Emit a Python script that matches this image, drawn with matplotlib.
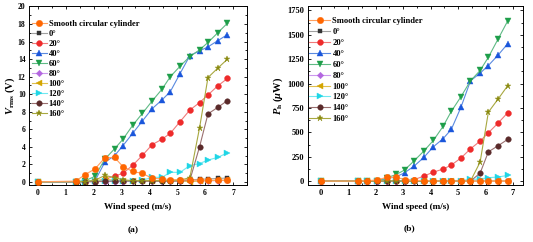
import matplotlib
matplotlib.use("Agg")
import matplotlib.pyplot as plt
from matplotlib.ticker import MultipleLocator

plt.rcParams['font.family'] = ['Liberation Serif', 'DejaVu Serif']
plt.rcParams['font.weight'] = 'bold'
plt.rcParams['mathtext.fontset'] = 'custom'
plt.rcParams['mathtext.rm'] = 'Liberation Serif:bold'
plt.rcParams['mathtext.it'] = 'Liberation Serif:bold:italic'
plt.rcParams['mathtext.bf'] = 'Liberation Serif:bold'

# wind speed (m/s)
speed = [0, 1.35, 1.7, 2.05, 2.4, 2.75, 3.05, 3.4, 3.75, 4.1, 4.45, 4.75, 5.1, 5.45, 5.8, 6.1, 6.45, 6.8]

labels = ["Smooth circular cylinder", "0°", "20°", "40°", "60°", "80°", "100°", "120°", "140°", "160°"]

# (a) Vrms (V)
v_smooth = [0.02, 0.1, 0.85, 1.5, 2.75, 2.8, 1.75, 1.2, 0.97, 0.42, 0.35, 0.28, 0.25, 0.22, 0.2, 0.2, 0.2, 0.2]
v_0 = [0.02, 0.03, 0.04, 0.05, 0.06, 0.06, 0.07, 0.08, 0.08, 0.1, 0.12, 0.15, 0.2, 0.25, 0.3, 0.35, 0.4, 0.45]
v_20 = [0.02, 0.03, 0.05, 0.1, 0.3, 0.68, 0.99, 1.9, 3.04, 4.26, 4.87, 5.55, 6.88, 8.2, 9.05, 9.92, 10.95, 11.8]
v_40 = [0.02, 0.03, 0.05, 0.15, 2.25, 3.0, 4.14, 5.55, 6.96, 8.36, 9.35, 10.3, 12.36, 14.4, 14.94, 15.4, 16.1, 16.8]
v_60 = [0.02, 0.05, 0.15, 0.65, 2.6, 3.78, 4.87, 6.46, 7.83, 9.24, 10.57, 12.0, 13.2, 14.3, 15.06, 15.9, 17.0, 18.1]
v_80 = [0.02, 0.02, 0.03, 0.04, 0.05, 0.05, 0.05, 0.06, 0.06, 0.07, 0.08, 0.08, 0.1, 0.1, 0.12, 0.14, 0.15, 0.18]
v_100 = [0.02, 0.03, 0.05, 0.1, 0.3, 0.2, 0.15, 0.1, 0.1, 0.1, 0.1, 0.1, 0.15, 0.02, 0.12, 0.15, 0.18, 0.2]
v_120 = [0.02, 0.03, 0.05, 0.08, 0.1, 0.12, 0.12, 0.1, 0.2, 0.53, 0.53, 1.1, 1.1, 1.87, 2.1, 2.5, 2.8, 3.33]
v_140 = [0.02, 0.02, 0.03, 0.05, 0.08, 0.1, 0.1, 0.1, 0.1, 0.1, 0.1, 0.1, 0.12, 0.2, 4.03, 7.76, 8.5, 9.28]
v_160 = [0.02, 0.03, 0.05, 0.2, 0.75, 0.5, 0.25, 0.15, 0.15, 0.15, 0.15, 0.15, 0.2, 0.5, 6.2, 11.9, 12.97, 14.0]

# (b) Ph (uW)
p_smooth = [0, 0.1, 4, 12, 38, 40, 16, 8, 5, 1, 1, 0.5, 0.5, 0.3, 0.2, 0.2, 0.2, 0.2]
p_0 = [0, 0, 0, 0, 0, 0, 0, 0, 0, 0, 0.1, 0.1, 0.2, 0.3, 0.5, 0.6, 0.8, 1.0]
p_20 = [0, 0, 0, 0, 0.5, 2, 5, 15, 51, 92, 123, 164, 236, 331, 410, 495, 594, 700]
p_40 = [0, 0, 0, 0.1, 25, 45, 85, 154, 242, 352, 434, 529, 755, 1028, 1107, 1185, 1291, 1407]
p_60 = [0, 0, 0, 2, 33, 68, 113, 208, 307, 417, 560, 714, 864, 1028, 1134, 1270, 1455, 1640]
p_80 = [0, 0, 0, 0, 0, 0, 0, 0, 0, 0, 0, 0, 0, 0, 0, 0, 0, 0.1]
p_100 = [0, 0, 0, 0, 0.5, 0.2, 0.1, 0, 0, 0, 0, 0, 0.1, 0, 0.1, 0.1, 0.2, 0.2]
p_120 = [0, 0, 0, 0, 0, 0, 0, 0, 0.1, 1.5, 1.3, 6, 6, 17, 22, 35, 42, 58]
p_140 = [0, 0, 0, 0, 0, 0, 0, 0, 0, 0, 0, 0, 0, 0.2, 82, 300, 362, 427]
p_160 = [0, 0, 0, 0.2, 3, 1.5, 0.3, 0.1, 0.1, 0.1, 0.1, 0.1, 0.2, 1, 195, 707, 840, 977]

v_series = [v_smooth, v_0, v_20, v_40, v_60, v_80, v_100, v_120, v_140, v_160]
p_series = [p_smooth, p_0, p_20, p_40, p_60, p_80, p_100, p_120, p_140, p_160]

markers = ['o', 's', 'o', '^', 'v', 'D', '<', '>', 'o', '*']
mcolors = ['#ff6600', '#333333', '#ee2b2b', '#1a56db', '#1e9e4a', '#b366e0',
           '#d4a500', '#1fd6e6', '#5a2a2a', '#8a8a10']
lcolors = ['#ffa060', '#a0a0a0', '#f07a7a', '#5a8ae0', '#5fba85', '#cc99ee',
           '#e0c050', '#70e8f0', '#9a7070', '#a8a840']
msizes = [4.6, 3.5, 4.2, 4.2, 4.2, 3.3, 4.2, 4.2, 4.0, 5.0]


def draw(ax, series, xlim, ylim, ymaj, ymin, ylabel, tsize, lpad, leg_kw):
    handles = []
    for i, ys in enumerate(series):
        z = 5 if i == 0 else 2 + i * 0.01
        h, = ax.plot(speed, ys, color=lcolors[i], lw=0.8, marker=markers[i],
                     ms=msizes[i], mfc=mcolors[i], mec=mcolors[i], mew=0.3,
                     label=labels[i], zorder=z)
        handles.append(h)
    ax.set_xlim(*xlim)
    ax.set_ylim(*ylim)
    ax.xaxis.set_major_locator(MultipleLocator(1))
    ax.xaxis.set_minor_locator(MultipleLocator(0.5))
    ax.yaxis.set_major_locator(MultipleLocator(ymaj))
    ax.yaxis.set_minor_locator(MultipleLocator(ymin))
    ax.tick_params(which='both', direction='in', top=True, right=True,
                   labelsize=tsize, width=0.6, pad=2.5)
    ax.tick_params(which='major', length=2.5)
    ax.tick_params(which='minor', length=1.3)
    for s in ax.spines.values():
        s.set_linewidth(0.7)
    for t in ax.get_xticklabels() + ax.get_yticklabels():
        t.set_fontweight('bold')
    ax.set_xlabel("Wind speed (m/s)", fontsize=6.6, fontweight='bold', labelpad=4)
    ax.set_ylabel(ylabel, fontsize=7.6, fontweight='bold', labelpad=lpad)
    ax.legend(handles=handles, loc='upper left', bbox_to_anchor=leg_kw['anchor'],
              frameon=False, borderpad=0, borderaxespad=0,
              handlelength=leg_kw['hl'], handletextpad=leg_kw['htp'],
              labelspacing=leg_kw['ls'], prop={'weight': 'bold', 'size': 6.1})


fig = plt.figure(figsize=(5.33, 2.42), dpi=100)
ax_a = fig.add_axes([0.0544, 0.2335, 0.409, 0.7397])
ax_b = fig.add_axes([0.5773, 0.2335, 0.4045, 0.7397])

draw(ax_a, v_series, (-0.32, 7.5), (-0.4, 20), 2, 1, r"$V_{\rm rms}$ (V)", 5.5, 0.5,
     {'anchor': (0.012, 0.925), 'hl': 1.8, 'htp': 0.2, 'ls': 0.24})
draw(ax_b, p_series, (-0.47, 7.37), (-45, 1790), 250, 125, r"$P_{\rm h}$ ($\mu$W)", 6.0, 1.5,
     {'anchor': (0.006, 0.94), 'hl': 2.5, 'htp': 0.27, 'ls': 0.34})

fig.text(0.25, 0.05, "(a)", ha='center', va='center', fontsize=6.8, fontweight='bold')
fig.text(0.769, 0.058, "(b)", ha='center', va='center', fontsize=6.8, fontweight='bold')

fig.savefig("out.png", dpi=100)
